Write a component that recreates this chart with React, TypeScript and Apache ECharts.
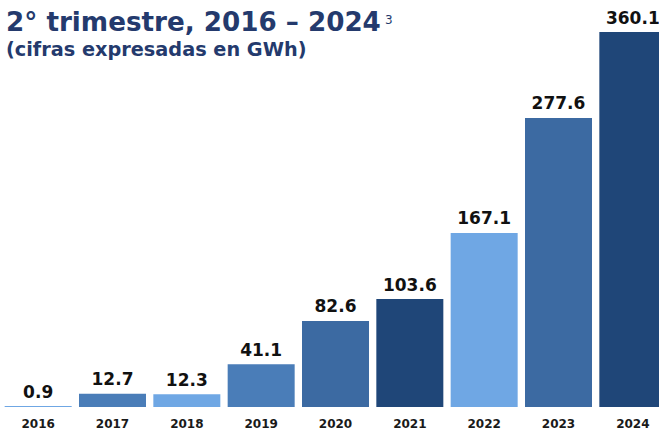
import React, { useEffect, useRef } from "react";
import * as echarts from "echarts";

const years = ["2016", "2017", "2018", "2019", "2020", "2021", "2022", "2023", "2024"];
const values = [0.9, 12.7, 12.3, 41.1, 82.6, 103.6, 167.1, 277.6, 360.1];
const barColors = ["#6fa7e4", "#4a7db8", "#6fa7e4", "#4a7db8", "#3c6aa2", "#1f4678", "#6fa7e4", "#3c6aa2", "#1f4678"];
const titleMain = "2° trimestre, 2016 – 2024";
const titleSup = "3";
const subtitle = "(cifras expresadas en GWh)";

export default function App() {
  const ref = useRef<HTMLDivElement>(null);
  useEffect(() => {
    if (!ref.current) return;
    const chart = echarts.init(ref.current, null, { renderer: "svg" });
    chart.setOption({
      animation: false,
      backgroundColor: "#ffffff",
      title: [
        {
          left: 6,
          top: 7,
          padding: 0,
          text: titleMain,
          textStyle: { fontFamily: "DejaVu Sans", fontWeight: "bold", fontSize: 26.2, lineHeight: 29, color: "#243a6d" },
        },
        {
          left: 385,
          top: 13,
          padding: 0,
          text: titleSup,
          textStyle: { fontFamily: "DejaVu Sans", fontWeight: "normal", fontSize: 12, lineHeight: 13, color: "#243a6d" },
        },
        {
          left: 6,
          top: 38,
          padding: 0,
          text: subtitle,
          textStyle: { fontFamily: "DejaVu Sans", fontWeight: "bold", fontSize: 19.3, lineHeight: 22, color: "#243a6d" },
        },
      ],
      grid: { left: 1, width: 669, top: 32, bottom: 23, containLabel: false, outerBoundsMode: "none" },
      xAxis: {
        type: "category",
        data: years,
        axisLine: { show: false },
        axisTick: { show: false },
        axisLabel: {
          margin: 11,
          lineHeight: 12,
          fontFamily: "DejaVu Sans",
          fontWeight: "bold",
          fontSize: 12,
          color: "#1a1a1a",
        },
      },
      yAxis: {
        type: "value",
        min: 0,
        max: 360.1,
        show: false,
        splitLine: { show: false },
      },
      series: [
        {
          type: "bar",
          barWidth: 67,
          data: values.map((v, i) => ({ value: v, itemStyle: { color: barColors[i] } })),
          label: {
            show: true,
            position: "top",
            distance: 6,
            fontFamily: "DejaVu Sans",
            fontWeight: "bold",
            fontSize: 17,
            color: "#111111",
            formatter: (p: any) => p.value.toFixed(1),
          },
        },
      ],
    });
    return () => chart.dispose();
  }, []);
  return <div ref={ref} style={{ position: "fixed", left: 0, top: 0, width: 659, height: 430 }} />;
}
